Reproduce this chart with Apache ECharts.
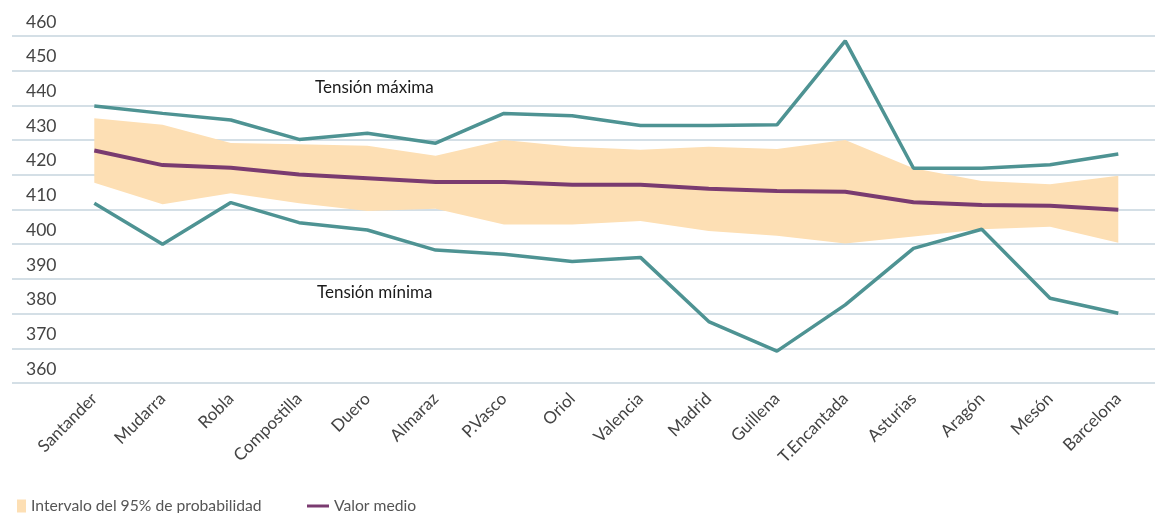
<!DOCTYPE html>
<html>
<head>
<meta charset="utf-8">
<script src="https://cdn.jsdelivr.net/npm/echarts@6/dist/echarts.min.js"></script>
<style>
  html, body { margin: 0; padding: 0; background: #fff; }
  #chart { width: 1155px; height: 513px; }
</style>
</head>
<body>
<div id="chart"></div>
<script>
var categories = ['Santander', 'Mudarra', 'Robla', 'Compostilla', 'Duero', 'Almaraz', 'P.Vasco', 'Oriol',
  'Valencia', 'Madrid', 'Guillena', 'T.Encantada', 'Asturias', 'Aragón', 'Mesón', 'Barcelona'];

var tensionMax = [439.8, 437.7, 435.8, 430.2, 432.0, 429.1, 437.7, 437.0, 434.2, 434.2, 434.4, 458.6, 421.9, 421.9, 422.9, 426.0];
var tensionMin = [411.8, 400.0, 412.0, 406.2, 404.1, 398.3, 397.1, 395.0, 396.2, 377.7, 369.2, 382.5, 398.8, 404.3, 384.4, 380.1];
var valorMedio = [427.0, 422.8, 422.0, 420.1, 419.0, 417.9, 417.9, 417.1, 417.1, 416.0, 415.3, 415.1, 412.1, 411.3, 411.1, 409.9];
var intervaloSup = [436.3, 434.4, 429.2, 428.8, 428.4, 425.5, 430.0, 428.1, 427.2, 428.1, 427.4, 430.0, 421.9, 418.2, 417.3, 419.7];
var intervaloInf = [417.7, 411.5, 414.7, 411.8, 409.6, 410.2, 405.7, 405.7, 406.7, 403.8, 402.4, 400.2, 402.2, 404.3, 405.0, 400.4];

var yTicks = { min: 360, max: 460, step: 10 };

var TEAL = '#4e9393';
var PURPLE = '#7a3b70';
var PEACH = '#fddfb4';
var FONT = 'Lato, "Open Sans", sans-serif';

// ancho del intervalo, apilado sobre el limite inferior
var intervaloAncho = intervaloSup.map(function (v, i) {
  return +(v - intervaloInf[i]).toFixed(2);
});

var chart = echarts.init(document.getElementById('chart'));

var option = {
  animation: false,
  textStyle: { fontFamily: FONT },
  grid: [
    { left: 12, right: 0, top: 36, bottom: 130 },
    { left: 94.3, right: 36.7, top: 36, bottom: 130 }
  ],
  xAxis: [
    { type: 'value', gridIndex: 0, show: false, min: 0, max: 1 },
    {
      type: 'category',
      gridIndex: 1,
      boundaryGap: false,
      data: categories,
      axisLine: { show: false },
      axisTick: { show: false },
      axisLabel: {
        interval: 0,
        rotate: 45,
        margin: 13,
        fontSize: 17,
        color: '#444',
        fontFamily: FONT
      }
    }
  ],
  yAxis: [
    {
      type: 'value',
      gridIndex: 0,
      min: yTicks.min,
      max: yTicks.max,
      interval: yTicks.step,
      axisLine: { show: false },
      axisTick: { show: false },
      splitLine: { lineStyle: { color: '#c6d4de', width: 1.5 } },
      axisLabel: {
        inside: true,
        margin: 14,
        verticalAlign: 'bottom',
        padding: [0, 0, 5, 0],
        fontSize: 17.5,
        color: '#444',
        fontFamily: FONT
      }
    },
    {
      type: 'value',
      gridIndex: 1,
      min: yTicks.min,
      max: yTicks.max,
      show: false
    }
  ],
  legend: [
    {
      left: 12,
      top: 493,
      icon: 'rect',
      itemWidth: 9,
      itemHeight: 13,
      itemGap: 10,
      textStyle: { fontSize: 15.7, color: '#555', fontFamily: FONT },
      data: ['Intervalo del 95% de probabilidad']
    },
    {
      left: 302,
      top: 493,
      icon: 'rect',
      itemWidth: 22,
      itemHeight: 3,
      itemGap: 6,
      textStyle: { fontSize: 15.7, color: '#555', fontFamily: FONT },
      data: ['Valor medio']
    }
  ],
  graphic: [
    {
      type: 'text',
      left: 315,
      top: 79,
      style: { text: 'Tensión máxima', fontSize: 17, fill: '#1a1a1a', fontFamily: FONT }
    },
    {
      type: 'text',
      left: 317,
      top: 284,
      style: { text: 'Tensión mínima', fontSize: 17, fill: '#1a1a1a', fontFamily: FONT }
    }
  ],
  series: [
    {
      name: 'inferior',
      type: 'line',
      xAxisIndex: 1,
      yAxisIndex: 1,
      stack: 'intervalo',
      data: intervaloInf,
      symbol: 'none',
      silent: true,
      lineStyle: { width: 0, opacity: 0 },
      z: 1
    },
    {
      name: 'Intervalo del 95% de probabilidad',
      type: 'line',
      xAxisIndex: 1,
      yAxisIndex: 1,
      stack: 'intervalo',
      data: intervaloAncho,
      symbol: 'none',
      silent: true,
      itemStyle: { color: PEACH },
      lineStyle: { width: 0, color: PEACH },
      areaStyle: { color: PEACH, opacity: 1 },
      z: 1
    },
    {
      name: 'Valor medio',
      type: 'line',
      xAxisIndex: 1,
      yAxisIndex: 1,
      data: valorMedio,
      symbol: 'none',
      itemStyle: { color: PURPLE },
      lineStyle: { width: 4, color: PURPLE },
      z: 3
    },
    {
      name: 'Tensión máxima',
      type: 'line',
      xAxisIndex: 1,
      yAxisIndex: 1,
      data: tensionMax,
      symbol: 'none',
      lineStyle: { width: 3.5, color: TEAL },
      z: 2
    },
    {
      name: 'Tensión mínima',
      type: 'line',
      xAxisIndex: 1,
      yAxisIndex: 1,
      data: tensionMin,
      symbol: 'none',
      lineStyle: { width: 3.5, color: TEAL },
      z: 2
    }
  ]
};

chart.setOption(option);
</script>
</body>
</html>
